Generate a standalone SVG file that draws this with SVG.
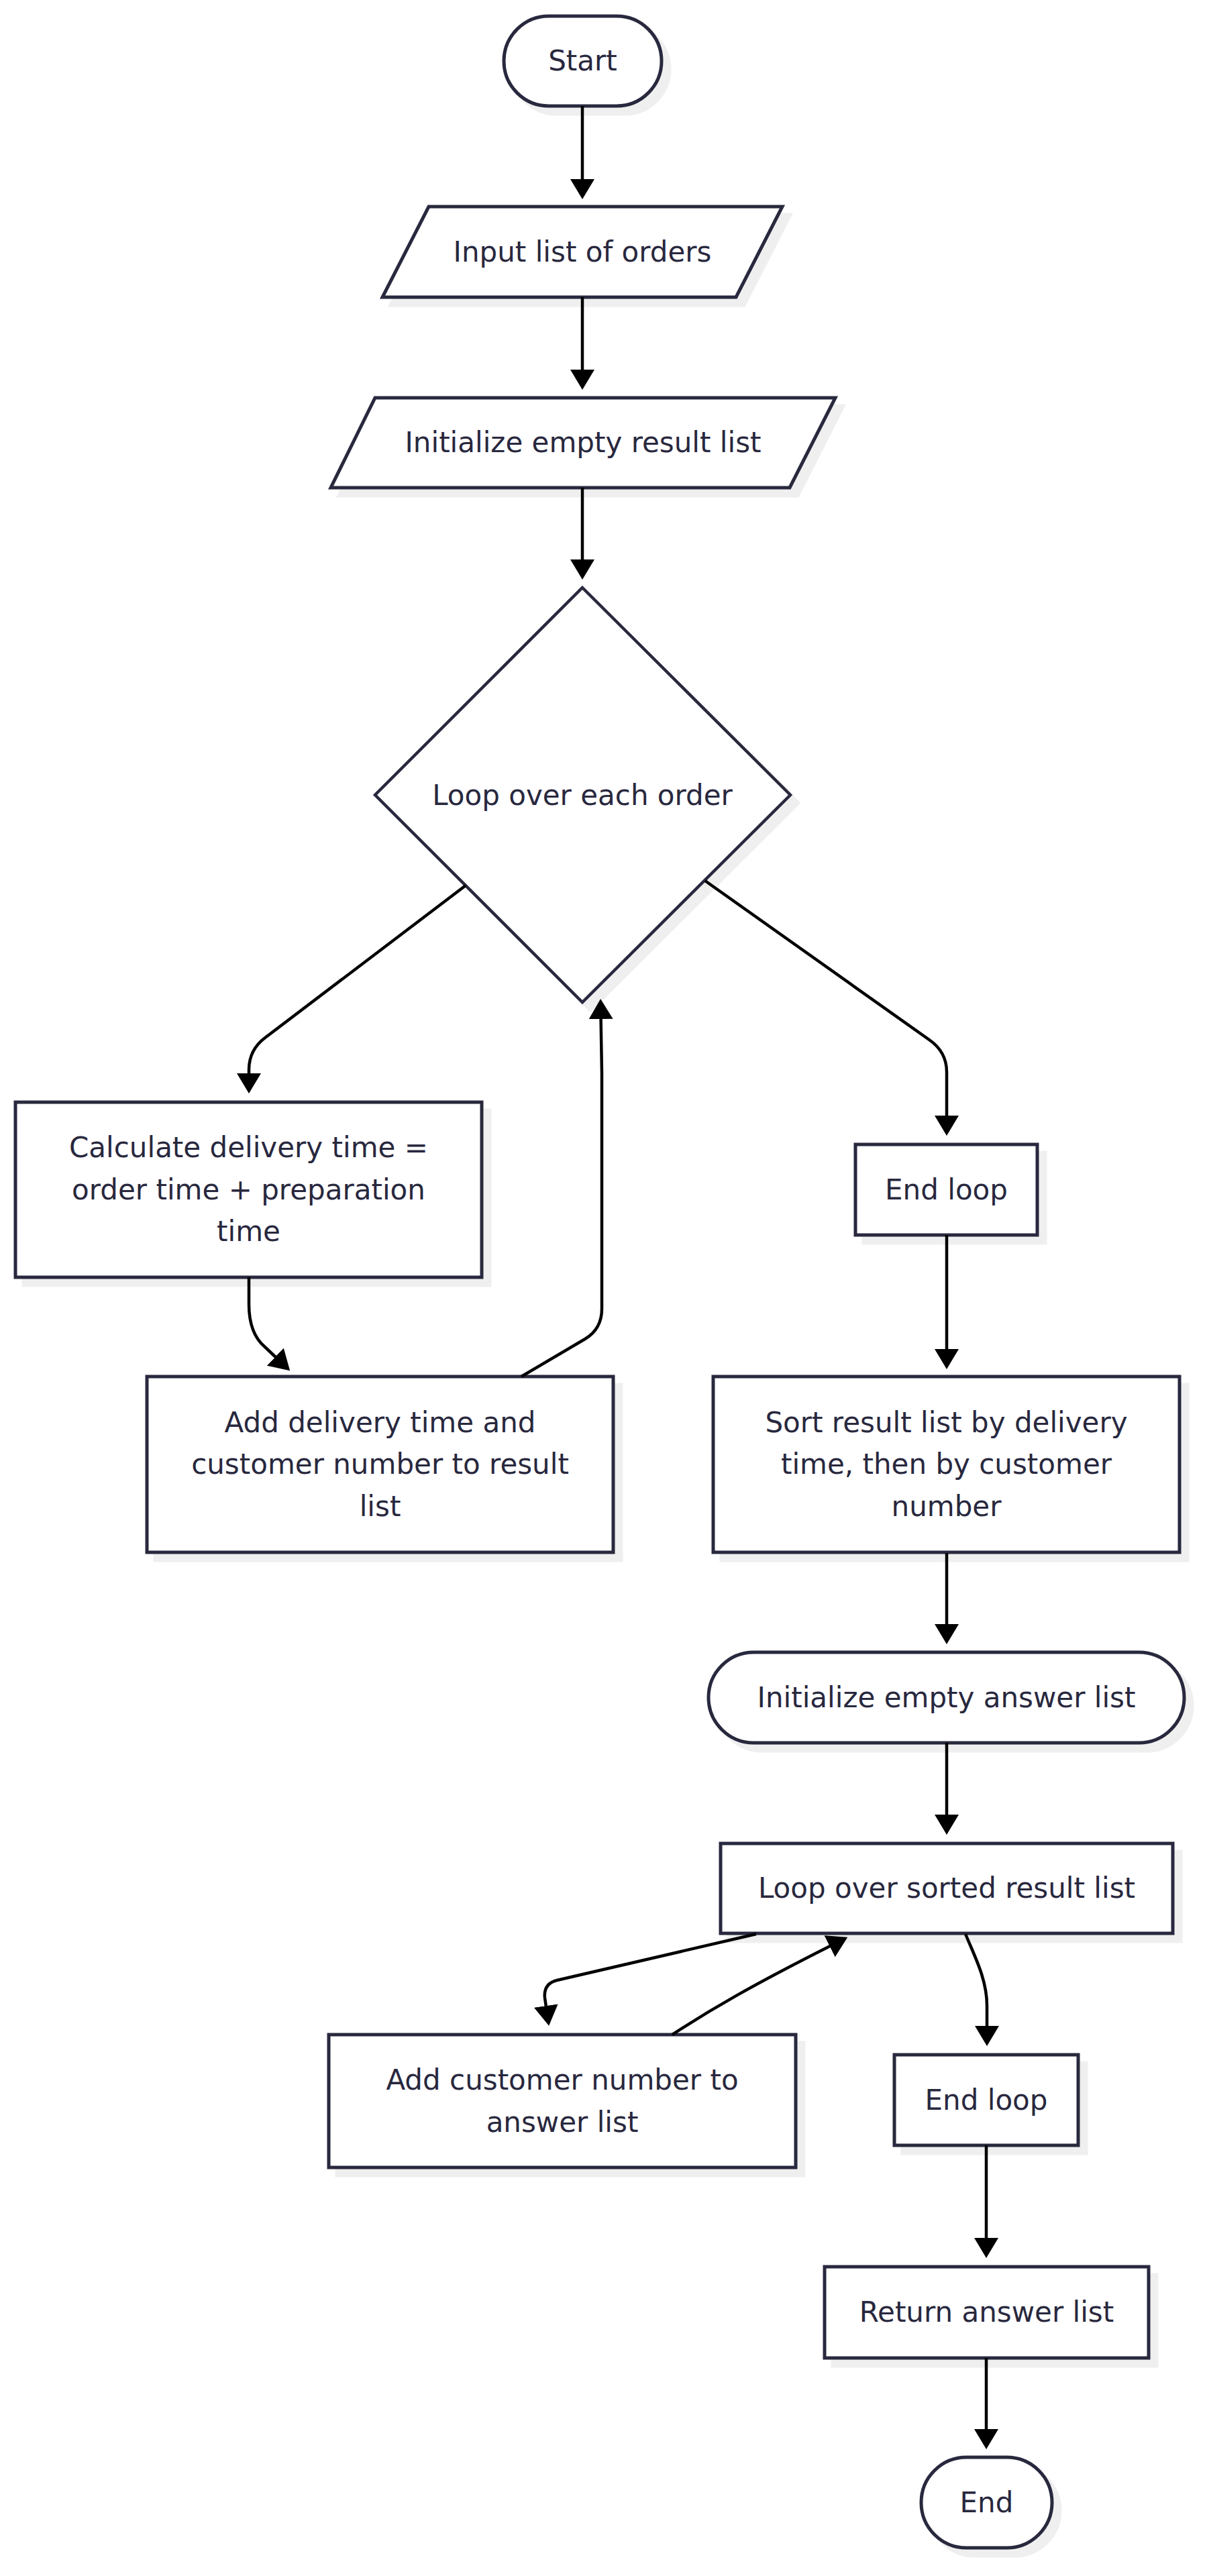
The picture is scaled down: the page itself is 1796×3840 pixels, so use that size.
<svg xmlns="http://www.w3.org/2000/svg" xmlns:xlink="http://www.w3.org/1999/xlink" width="1796" height="3840" viewBox="0 0 1796 3840">
<style>
.node{fill:#ffffff;stroke:#28283e;stroke-width:5}
.dia{fill:#ffffff;stroke:#28283e;stroke-width:4.5}
.sh{fill:#efefef;stroke:#efefef;stroke-width:5}
.lbl{font-family:"DejaVu Sans",sans-serif;font-size:42px;fill:#28283e;text-anchor:middle}
.edge{fill:none;stroke:#000000;stroke-width:4.5;marker-end:url(#ah)}
</style>
<defs>
<marker id="ah" viewBox="0 0 30 36" refX="5" refY="18" markerWidth="30" markerHeight="36" markerUnits="userSpaceOnUse" orient="auto">
<path d="M0,0 L30,18 L0,36 z" fill="#000000"/>
</marker>
</defs>
<rect width="1796" height="3840" fill="#ffffff"/>

<g id="start">
<rect class="sh" x="763" y="36" width="235" height="134" rx="67"/>
<rect class="node" x="751" y="24" width="235" height="134" rx="67"/>
<text class="lbl" x="868.5" y="105">Start</text>
</g>

<g id="input">
<polygon class="sh" points="651,320 1178,320 1109,455 582,455"/>
<polygon class="node" points="639,308 1166,308 1097,443 570,443"/>
<text class="lbl" x="868" y="390">Input list of orders</text>
</g>

<g id="initResult">
<polygon class="sh" points="571,605 1257,605 1189,739 505,739"/>
<polygon class="node" points="559,593 1245,593 1177,727 493,727"/>
<text class="lbl" x="869" y="674">Initialize empty result list</text>
</g>

<g id="loopOrders">
<polygon class="sh" points="880,888 1190,1197 880,1506 571,1197"/>
<polygon class="dia" points="868,876 1178,1185 868,1494 559,1185"/>
<text class="lbl" x="868" y="1200">Loop over each order</text>
</g>

<g id="calc">
<rect class="sh" x="35" y="1655" width="695" height="261"/>
<rect class="node" x="23" y="1643" width="695" height="261"/>
<text class="lbl" x="370.5" y="1725">Calculate delivery time =</text>
<text class="lbl" x="370.5" y="1788">order time + preparation</text>
<text class="lbl" x="370.5" y="1850">time</text>
</g>

<g id="endLoop1">
<rect class="sh" x="1287" y="1718" width="271" height="135"/>
<rect class="node" x="1275" y="1706" width="271" height="135"/>
<text class="lbl" x="1410.5" y="1788">End loop</text>
</g>

<g id="addDelivery">
<rect class="sh" x="231" y="2064" width="695" height="262"/>
<rect class="node" x="219" y="2052" width="695" height="262"/>
<text class="lbl" x="566.5" y="2135">Add delivery time and</text>
<text class="lbl" x="566.5" y="2197">customer number to result</text>
<text class="lbl" x="566.5" y="2260">list</text>
</g>

<g id="sort">
<rect class="sh" x="1075" y="2064" width="695" height="262"/>
<rect class="node" x="1063" y="2052" width="695" height="262"/>
<text class="lbl" x="1410.5" y="2135">Sort result list by delivery</text>
<text class="lbl" x="1410.5" y="2197">time, then by customer</text>
<text class="lbl" x="1410.5" y="2260">number</text>
</g>

<g id="initAnswer">
<rect class="sh" x="1068" y="2475" width="709" height="135" rx="67.5"/>
<rect class="node" x="1056" y="2463" width="709" height="135" rx="67.5"/>
<text class="lbl" x="1410.5" y="2545">Initialize empty answer list</text>
</g>

<g id="loopSorted">
<rect class="sh" x="1086" y="2760" width="674" height="134"/>
<rect class="node" x="1074" y="2748" width="674" height="134"/>
<text class="lbl" x="1411" y="2829">Loop over sorted result list</text>
</g>

<g id="addCustomer">
<rect class="sh" x="502" y="3045" width="696" height="198"/>
<rect class="node" x="490" y="3033" width="696" height="198"/>
<text class="lbl" x="838" y="3115">Add customer number to</text>
<text class="lbl" x="838" y="3178">answer list</text>
</g>

<g id="endLoop2">
<rect class="sh" x="1345" y="3075" width="274" height="135"/>
<rect class="node" x="1333" y="3063" width="274" height="135"/>
<text class="lbl" x="1470" y="3145">End loop</text>
</g>

<g id="returnList">
<rect class="sh" x="1241" y="3391" width="483" height="136"/>
<rect class="node" x="1229" y="3379" width="483" height="136"/>
<text class="lbl" x="1470.5" y="3461">Return answer list</text>
</g>

<g id="end">
<rect class="sh" x="1385" y="3675" width="195" height="135" rx="67.5"/>
<rect class="node" x="1373" y="3663" width="195" height="135" rx="67.5"/>
<text class="lbl" x="1470.5" y="3745">End</text>
</g>

<g id="connectors">
<path class="edge" d="M868,158 L868,272"/>
<path class="edge" d="M868,443 L868,556"/>
<path class="edge" d="M868,727 L868,839"/>
<path class="edge" d="M694,1320 L395,1547 Q371,1565 371,1595 L371,1605"/>
<path class="edge" d="M1051,1313 L1385,1550 Q1411,1568 1411,1598 L1411,1668"/>
<path class="edge" d="M371,1904 L371,1944 Q371,1988 395,2008 L414,2026"/>
<path class="edge" d="M777,2052 L872,1996 Q897,1981 897,1951 L897,1600 L895.5,1514"/>
<path class="edge" d="M1411,1841 L1411,2016"/>
<path class="edge" d="M1411,2315 L1411,2426"/>
<path class="edge" d="M1411,2598 L1411,2710"/>
<path class="edge" d="M1127,2883 L830,2952 Q810,2957 812,2978 L814.5,2995"/>
<path class="edge" d="M1002,3033 C1060,2995 1120,2960 1241,2899"/>
<path class="edge" d="M1439,2883 C1452,2915 1471,2950 1471,2990 L1471,3025"/>
<path class="edge" d="M1470,3198 L1470,3341"/>
<path class="edge" d="M1470,3515 L1470,3626"/>
</g>
</svg>
